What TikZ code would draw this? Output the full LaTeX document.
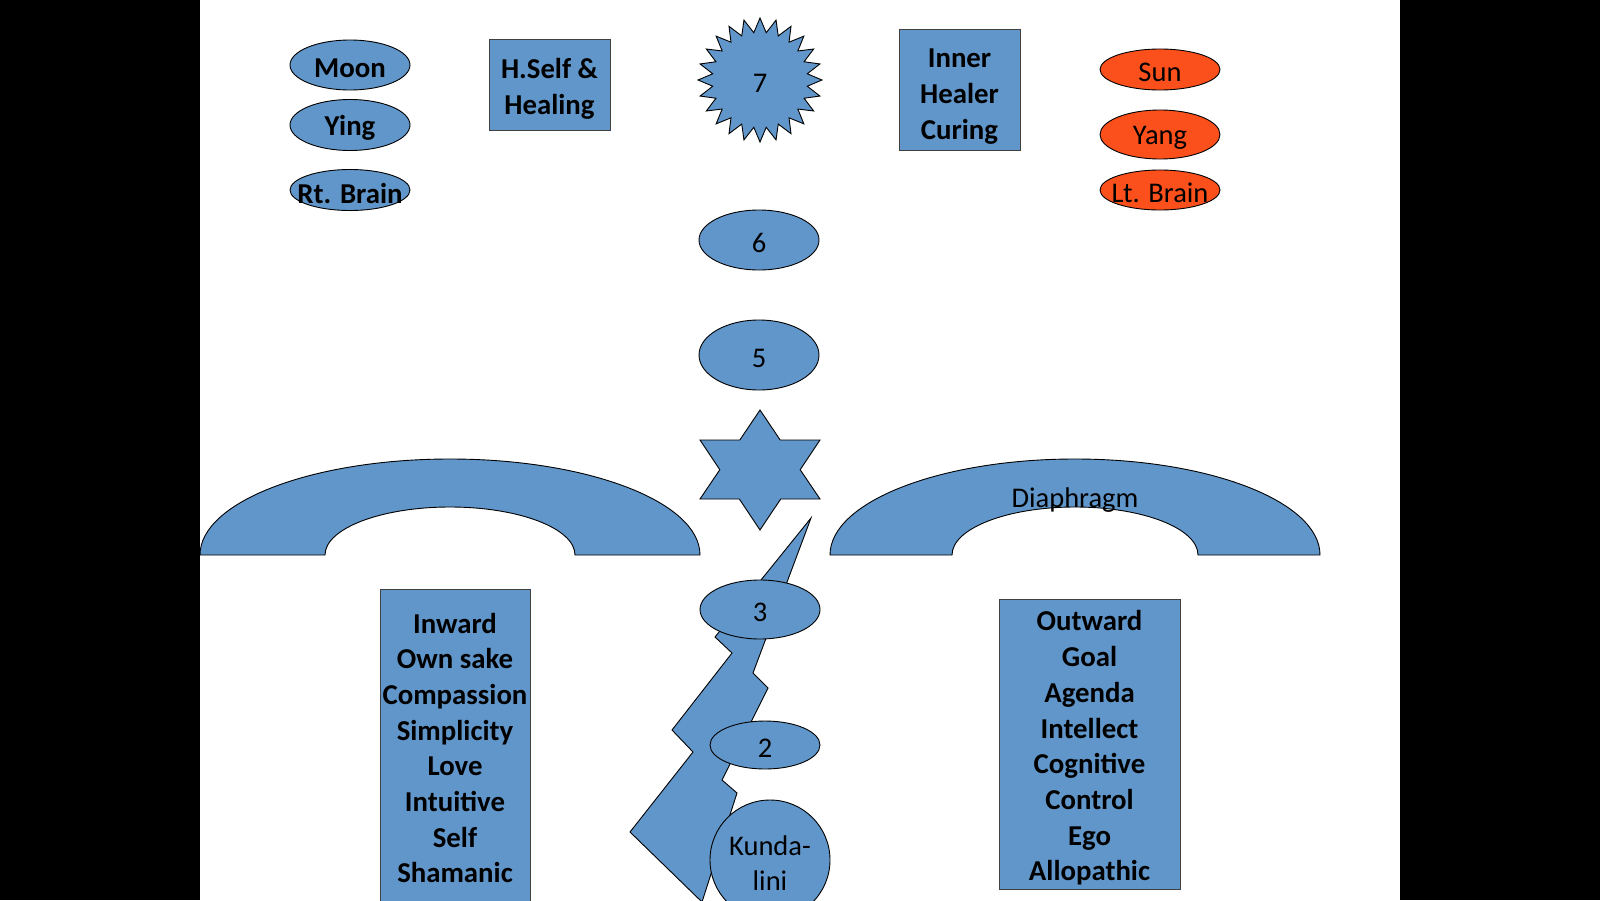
\documentclass[tikz,border=0pt]{standalone}
\usepackage{fontspec}
\setmainfont{Carlito}
\usetikzlibrary{shapes.geometric}
\definecolor{shapeblue}{RGB}{97,150,202}
\definecolor{sunorange}{RGB}{252,80,28}
\tikzset{
  ellblue/.style={ellipse, draw=black, fill=shapeblue, line width=0.9pt, inner sep=0pt},
  ellorange/.style={ellipse, draw=black, fill=sunorange, line width=0.9pt, inner sep=0pt},
  boxblue/.style={rectangle, draw=black!75, fill=shapeblue, line width=1pt, inner sep=0pt},
  bluefill/.style={draw=black, fill=shapeblue, line width=0.9pt, line join=miter},
  lbl/.style={inner sep=0pt, align=center, yshift=-3pt, font=\fontsize{28.5}{35.7}\selectfont},
  blbl/.style={inner sep=0pt, align=center, yshift=-3pt, font=\fontsize{28.8}{35.7}\selectfont\bfseries},
}
\begin{document}
\begin{tikzpicture}[x=1pt,y=-1pt]
\useasboundingbox (0,0) rectangle (1600,900);
\clip (0,0) rectangle (1600,900);
\fill[white] (0,0) rectangle (1600,900);
\fill[black] (0,0) rectangle (200,900);
\fill[black] (1400,0) rectangle (1600,900);

% left column ellipses
\node[ellblue, minimum width=120pt, minimum height=50pt] (moon) at (350,65) {};
\node[blbl] at (moon) {Moon};
\node[ellblue, minimum width=120pt, minimum height=51pt] (ying) at (350,125) {};
\node[blbl] at (ying) {Ying};
\node[ellblue, minimum width=120pt, minimum height=41pt] (rtb) at (350,190) {};
\node[blbl] at (rtb) {Rt. Brain};

% H.Self box
\node[boxblue, minimum width=121pt, minimum height=91pt] (hself) at (549.5,84.5) {};
\node[blbl] at ([yshift=-1pt]hself.center) {H.Self \&\\Healing};

% star 7
\node[star, star points=24, star point ratio=1.3, minimum size=124pt, inner sep=0pt,
      draw=black, fill=shapeblue, line width=0.9pt] (s7) at (760,80) {};
\node[lbl] at (s7.center) {7};

% Inner healer box
\node[boxblue, minimum width=121pt, minimum height=121pt] (inner) at (959.5,89.5) {};
\node[blbl] at ([yshift=-4pt]inner.center) {Inner\\Healer\\Curing};

% right column ellipses
\node[ellorange, minimum width=120pt, minimum height=41pt] (sun) at (1160,69.5) {};
\node[lbl] at (sun) {Sun};
\node[ellorange, minimum width=120pt, minimum height=49pt] (yang) at (1160,134.5) {};
\node[lbl] at (yang) {Yang};
\node[ellorange, minimum width=120pt, minimum height=40pt] (ltb) at (1160,190) {};
\node[lbl] at (ltb) {Lt. Brain};

% chakra 6 and 5
\node[ellblue, minimum width=120pt, minimum height=60pt] (c6) at (759,240) {};
\node[lbl] at (c6) {6};
\node[ellblue, minimum width=120pt, minimum height=70pt] (c5) at (759,355) {};
\node[lbl] at (c5) {5};

% hexagram (4)
\draw[bluefill] (760,410) -- (780.2,440) -- (820,440) -- (800.2,469.7) -- (820,499)
  -- (780.7,499) -- (760,530) -- (739.3,499) -- (700,499) -- (719.8,469.7)
  -- (700,440) -- (739.8,440) -- cycle;

% arches
\draw[bluefill] (200,555) arc[start angle=180, end angle=360, x radius=250, y radius=96]
  -- (575,555) arc[start angle=360, end angle=180, x radius=125, y radius=48] -- cycle;
\draw[bluefill] (830,555) arc[start angle=180, end angle=360, x radius=245, y radius=96]
  -- (1198,555) arc[start angle=360, end angle=180, x radius=123, y radius=48] -- cycle;
\node[lbl] (dia) at (1075,497) {Diaphragm};

% lightning bolt
\draw[bluefill] (811,518) -- (753,673) -- (768,688) -- (722,780) -- (737,793)
  -- (702,902) -- (630,832) -- (693,752) -- (672,730) -- (732,653) -- (715,637) -- cycle;

% chakra 3, 2, Kundalini
\node[ellblue, minimum width=120pt, minimum height=59pt] (c3) at (760,609.5) {};
\node[lbl] at (c3) {3};
\node[ellblue, minimum width=110pt, minimum height=48pt] (c2) at (765,745) {};
\node[lbl] at (c2) {2};
\node[circle, draw=black, fill=shapeblue, line width=0.9pt, inner sep=0pt, minimum size=120pt] (kun) at (770,860) {};
\node[lbl] at (770,860) {Kunda-\\lini};

% bottom boxes
\node[boxblue, minimum width=150pt, minimum height=330pt, anchor=north] (lbox) at (455,589) {};
\node[blbl] at (455,745) {Inward\\Own sake\\Compassion\\Simplicity\\Love\\Intuitive\\Self\\Shamanic};
\node[boxblue, minimum width=181pt, minimum height=290pt] (rbox) at (1089.5,744) {};
\node[blbl] at (1089.5,745) {Outward\\Goal\\Agenda\\Intellect\\Cognitive\\Control\\Ego\\Allopathic};
\end{tikzpicture}
\end{document}
